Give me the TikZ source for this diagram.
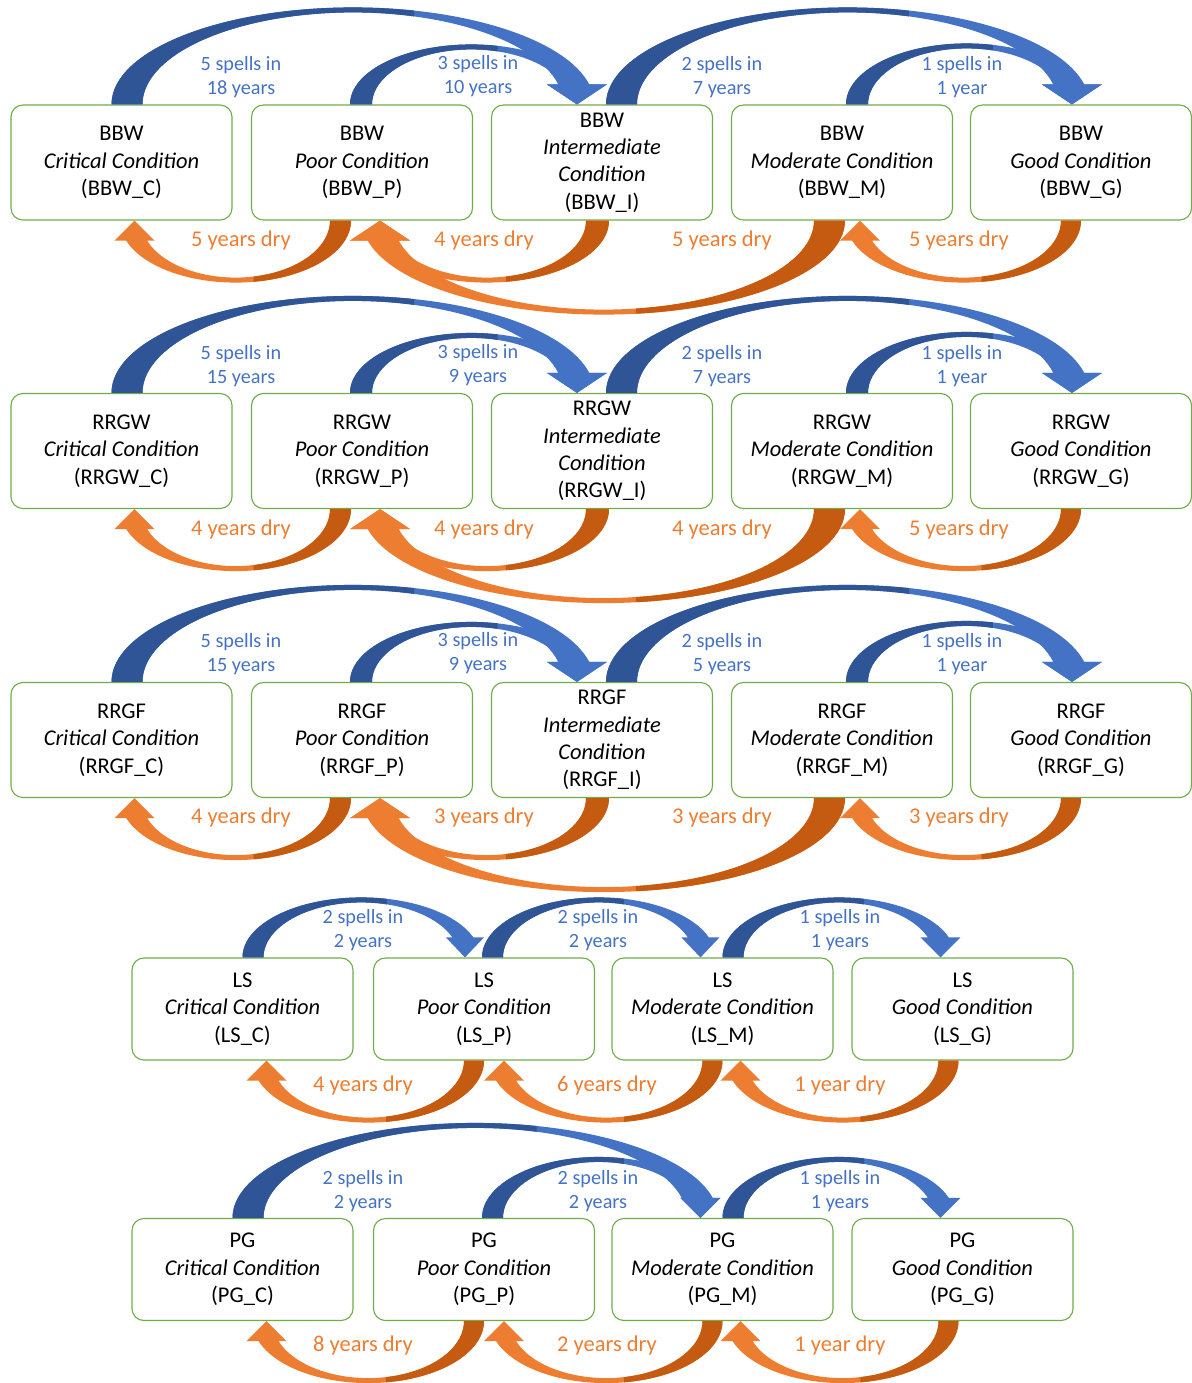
\documentclass[tikz,border=0pt]{standalone}
\usepackage{fontspec}
\setmainfont{Carlito}
\usepackage{xcolor}
\usetikzlibrary{calc}

\definecolor{bluelt}{HTML}{4472C4}
\definecolor{bluedk}{HTML}{2F5597}
\definecolor{orglt}{HTML}{ED7D31}
\definecolor{orgdk}{HTML}{C55A11}
\definecolor{boxgreen}{HTML}{70AD47}

%% curved block arrow (PowerPoint style), drawn from tail corner to head tip
%% #1 outer tail corner, #2 head tip, #3 turn (0 = over the top, 180 = underneath)
%% #4 tail width, #5 rise, #6 head half width, #7 back colour, #8 front colour
\newcommand{\bentarrow}[8]{%
  \path (#1); \pgfgetlastxy{\tailx}{\taily}
  \path (#2); \pgfgetlastxy{\tipx}{\tipy}
  \pgfmathsetmacro{\arcs}{abs(\tipx-\tailx)/0.71132}
  \pgfmathsetmacro{\arcso}{0.4*#4}
  \pgfmathsetmacro{\arcsi}{0.6*#4}
  \pgfmathsetmacro{\arcto}{asin(20/#5)}
  \pgfmathsetmacro{\arcao}{(\arcs+\arcso)/(1+cos(\arcto))}
  \pgfmathsetmacro{\arcri}{#5-5}
  \pgfmathsetmacro{\arcti}{asin(20/\arcri)}
  \pgfmathsetmacro{\arcai}{(\arcs-\arcsi-#4)/(1+cos(\arcti))}
  \pgfmathsetmacro{\arccut}{(0.65-0.2*#3/180)*\arcs}
  \def\arcpath{(0,0) arc[start angle=180, end angle=\arcto, x radius=\arcao, y radius=#5]
    -- (\arcs+#6,20) -- (\arcs,0) -- (\arcs-#6,20) -- (\arcs-\arcsi,20)
    arc[start angle=\arcti, end angle=180, x radius=\arcai, y radius=\arcri] -- cycle}
  \begin{scope}[shift={(#1)}, rotate=#3]
    \fill[#8] \arcpath;
    \begin{scope}
      \clip (-60,-60) rectangle (\arccut,#5+60);
      \fill[#7] \arcpath;
    \end{scope}
  \end{scope}
}

\begin{document}
\begin{tikzpicture}[x=0.025cm, y=0.025cm,
  cbox/.style ={draw=boxgreen, line width=0.8pt, rounded corners=0.3cm, fill=white,
                align=center, inner sep=0pt, minimum width=5.525cm, minimum height=2.875cm,
                font=\fontsize{16}{19.5}\selectfont},
  cboxs/.style={cbox, minimum height=2.55cm},
  spl/.style  ={align=center, inner sep=0pt, text=bluelt, font=\fontsize{14.4}{17}\selectfont},
  dry/.style  ={inner sep=0pt, text=orglt, font=\fontsize{16}{19}\selectfont},
]
\useasboundingbox (0,0) rectangle (1192,-1383);

%% ─── States: BBW, RRGW, RRGF (five conditions each) ─────────────────────────
\foreach \nm/\yc in {BBW/162.5, RRGW/451, RRGF/740} {
  \node[cbox] (\nm-C) at (121.5,-\yc) {\nm\\\textit{Critical Condition}\\(\nm\_C)};
  \node[cbox] (\nm-P) at (362,-\yc)   {\nm\\\textit{Poor Condition}\\(\nm\_P)};
  \node[cbox] (\nm-I) at (602,-\yc)   {\nm\\\textit{Intermediate}\\\textit{Condition}\\(\nm\_I)};
  \node[cbox] (\nm-M) at (842,-\yc)   {\nm\\\textit{Moderate Condition}\\(\nm\_M)};
  \node[cbox] (\nm-G) at (1081,-\yc)  {\nm\\\textit{Good Condition}\\(\nm\_G)};
}

%% ─── States: LS, PG (four conditions each) ───────────────────────────────────
\foreach \nm/\yc in {LS/1009, PG/1269.5} {
  \node[cboxs] (\nm-C) at (242.5,-\yc) {\nm\\\textit{Critical Condition}\\(\nm\_C)};
  \node[cboxs] (\nm-P) at (484,-\yc)   {\nm\\\textit{Poor Condition}\\(\nm\_P)};
  \node[cboxs] (\nm-M) at (722.5,-\yc) {\nm\\\textit{Moderate Condition}\\(\nm\_M)};
  \node[cboxs] (\nm-G) at (962.5,-\yc) {\nm\\\textit{Good Condition}\\(\nm\_G)};
}

%% ─── Wet spells (blue, over the top) and dry years (orange, underneath) ─────
\foreach \nm in {BBW, RRGW, RRGF} {
  \bentarrow{$(\nm-C.north)+(-10,0)$}{$(\nm-I.north)+(-25,0)$}{0}{31}{97}{30}{bluedk}{bluelt}
  \bentarrow{$(\nm-P.north)+(-12,0)$}{$(\nm-I.north)+(-25,0)$}{0}{22}{60}{30}{bluedk}{bluelt}
  \bentarrow{$(\nm-I.north)+(4,0)$}{$(\nm-G.north)+(-9,0)$}{0}{31}{97}{30}{bluedk}{bluelt}
  \bentarrow{$(\nm-M.north)+(4,0)$}{$(\nm-G.north)+(-9,0)$}{0}{22}{61}{30}{bluedk}{bluelt}
  \bentarrow{$(\nm-P.south)+(-11,0)$}{$(\nm-C.south)+(13,0)$}{180}{21}{62}{20}{orgdk}{orglt}
  \bentarrow{$(\nm-I.south)+(7,0)$}{$(\nm-P.south)+(18,0)$}{180}{23}{62}{30}{orgdk}{orglt}
  \bentarrow{$(\nm-M.south)+(3,0)$}{$(\nm-P.south)+(18,0)$}{180}{31}{94}{30}{orgdk}{orglt}
  \bentarrow{$(\nm-G.south)+(0,0)$}{$(\nm-M.south)+(18,0)$}{180}{20}{62}{20}{orgdk}{orglt}
}

% LS: one step at a time
\bentarrow{$(LS-C.north)+(0,0)$}{$(LS-P.north)+(-19,0)$}{0}{21}{60}{19}{bluedk}{bluelt}
\bentarrow{$(LS-P.north)+(-2,0)$}{$(LS-M.north)+(-22,0)$}{0}{21}{60}{19}{bluedk}{bluelt}
\bentarrow{$(LS-M.north)+(0,0)$}{$(LS-G.north)+(-22,0)$}{0}{21}{60}{20}{bluedk}{bluelt}

% PG: critical jumps straight to moderate
\bentarrow{$(PG-C.north)+(-10,0)$}{$(PG-M.north)+(-22,0)$}{0}{31}{95}{20}{bluedk}{bluelt}
\bentarrow{$(PG-P.north)+(-2,0)$}{$(PG-M.north)+(-22,0)$}{0}{21}{61}{20}{bluedk}{bluelt}
\bentarrow{$(PG-M.north)+(0,0)$}{$(PG-G.north)+(-22,0)$}{0}{21}{61}{20}{bluedk}{bluelt}

\foreach \nm in {LS, PG} {
  \bentarrow{$(\nm-P.south)+(0,0)$}{$(\nm-C.south)+(24,0)$}{180}{20}{62}{20}{orgdk}{orglt}
  \bentarrow{$(\nm-M.south)+(0,0)$}{$(\nm-P.south)+(20,0)$}{180}{20}{62}{20}{orgdk}{orglt}
  \bentarrow{$(\nm-G.south)+(-4,0)$}{$(\nm-M.south)+(18,0)$}{180}{20}{62}{20}{orgdk}{orglt}
}

%% ─── Labels ──────────────────────────────────────────────────────────────────
\foreach \nm/\dy/\ta/\tb/\tc/\td/\da/\db/\dc/\dd in
    {BBW/0/18 years/10 years/7 years/1 year/5/4/5/5,
     RRGW/289/15 years/9 years/7 years/1 year/4/4/4/5,
     RRGF/577/15 years/9 years/5 years/1 year/4/3/3/3} {
  \node[spl] (\nm-s1) at (241,-77-\dy) {5 spells in\\\ta};
  \node[spl] (\nm-s2) at (478,-76-\dy) {3 spells in\\\tb};
  \node[spl] (\nm-s3) at (722,-77-\dy) {2 spells in\\\tc};
  \node[spl] (\nm-s4) at (962,-77-\dy) {1 spells in\\\td};
  \node[dry] (\nm-d1) at (241,-240-\dy) {\da{} years dry};
  \node[dry] (\nm-d2) at (484,-240-\dy) {\db{} years dry};
  \node[dry] (\nm-d3) at (722,-240-\dy) {\dc{} years dry};
  \node[dry] (\nm-d4) at (959,-240-\dy) {\dd{} years dry};
}

\node[spl] (LS-s1) at (363,-930.5) {2 spells in\\2 years};
\node[spl] (LS-s2) at (598,-930.5) {2 spells in\\2 years};
\node[spl] (LS-s3) at (840,-930.5) {1 spells in\\1 years};
\node[dry] (LS-d1) at (363,-1085) {4 years dry};
\node[dry] (LS-d2) at (607,-1085) {6 years dry};
\node[dry] (LS-d3) at (840,-1085) {1 year dry};

\node[spl] (PG-s1) at (363,-1191) {2 spells in\\2 years};
\node[spl] (PG-s2) at (598,-1191) {2 spells in\\2 years};
\node[spl] (PG-s3) at (840,-1191) {1 spells in\\1 years};
\node[dry] (PG-d1) at (363,-1345) {8 years dry};
\node[dry] (PG-d2) at (607,-1345) {2 years dry};
\node[dry] (PG-d3) at (840,-1345) {1 year dry};

\end{tikzpicture}
\end{document}
